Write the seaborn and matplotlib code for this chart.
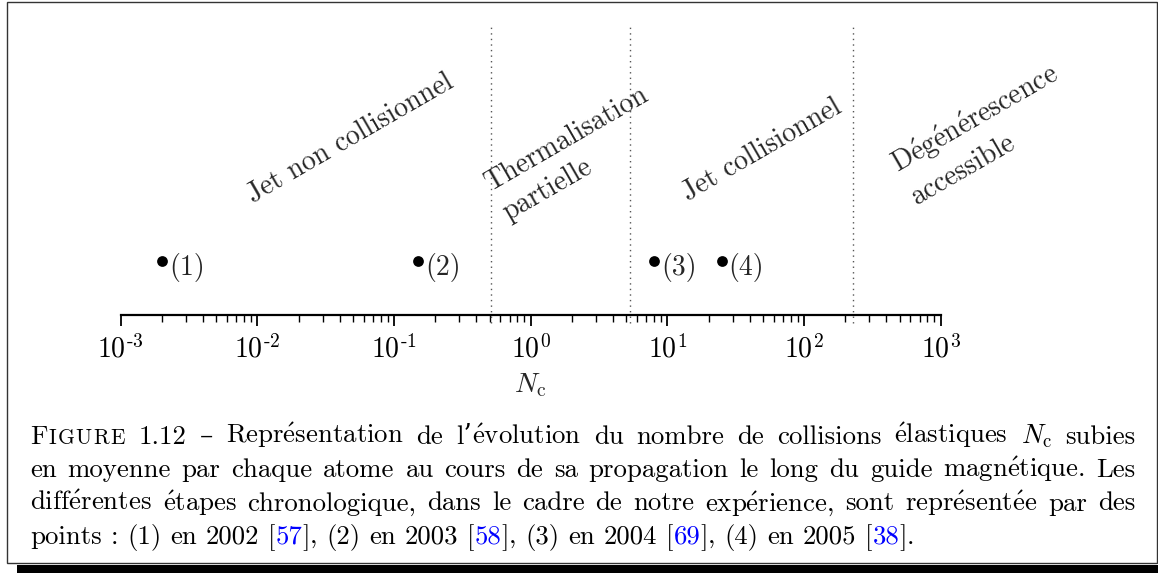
import re

import numpy as np
import pandas as pd
import matplotlib
matplotlib.use("Agg")
import matplotlib.pyplot as plt
from matplotlib.patches import Rectangle
from matplotlib.ticker import LogLocator, NullFormatter, FuncFormatter
import seaborn as sns

# chart values
steps = ["(1)", "(2)", "(3)", "(4)"]
n_collisions = [2e-3, 0.15, 8.0, 25.0]
boundaries = [0.51, 5.3, 230.0]
regions = ["Jet non collisionnel", "Thermalisation\npartielle",
           "Jet collisionnel", "Dégénérescence\naccessible"]
decades = [-3, -2, -1, 0, 1, 2, 3]

caption_lines = [
    "FIGURE 1.12 – Représentation de l’évolution du nombre de collisions élastiques $N_\\mathrm{c}$ subies",
    "en moyenne par chaque atome au cours de sa propagation le long du guide magnétique. Les",
    "différentes étapes chronologique, dans le cadre de notre expérience, sont représentée par des",
    "points : (1) en 2002 [57], (2) en 2003 [58], (3) en 2004 [69], (4) en 2005 [38].",
]

# layout (pixels of the 1158x573 picture)
W, H, DPI = 1158, 573, 100
region_pos = [(350, 138), (576, 154), (762, 150), (984, 134)]
caption_base = [443.5, 477, 510.5, 544]
CAP_X0, CAP_X1 = 30, 1135
CAP_SIZE = 19.3

sns.set_theme(style="white")
plt.rcParams["font.family"] = ["cmr10", "DejaVu Serif"]
plt.rcParams["mathtext.fontset"] = "cm"
plt.rcParams["axes.formatter.use_mathtext"] = True
plt.rcParams["axes.unicode_minus"] = False


def accents(w):
    # cmr10 has no é glyph, so such words go through mathtext
    if "é" in w:
        return "$\\mathrm{" + w.replace("é", "\\acute{e}") + "}$"
    return w


def accents_block(s):
    return "\n".join(" ".join(accents(w) for w in line.split(" "))
                     for line in s.split("\n"))


def decade_label(v, pos):
    e = int(round(np.log10(v)))
    if e < 0:
        return r"$10^{\text{-}%d}$" % (-e)
    return r"$10^{%d}$" % e


fig = plt.figure(figsize=(W / DPI, H / DPI), dpi=DPI)
ax_left, ax_right, ax_bottom, ax_top = 120.7, 940.7, 315, 15
ax = fig.add_axes([ax_left / W, 1 - ax_bottom / H,
                   (ax_right - ax_left) / W, (ax_bottom - ax_top) / H])

df = pd.DataFrame({"N": n_collisions, "step": steps, "row": 0.0})
sns.scatterplot(data=df, x="N", y="row", ax=ax, color="black", s=60,
                linewidth=0, legend=False, zorder=3)
ax.set_xscale("log")
ax.set_xlim(10.0 ** decades[0], 10.0 ** decades[-1])
ax.set_ylim(-0.18, 0.82)

for _, r in df.iterrows():
    ax.annotate(r["step"], (r["N"], r["row"]), xytext=(5, -5),
                textcoords="offset points", ha="left", va="center", fontsize=20)

ax.vlines(boundaries, -0.207, 0.793, colors="#555555", linestyles=(0, (1, 3)),
          lw=1.0, clip_on=False)

for name, (px, py) in zip(regions, region_pos):
    ax.text((px - ax_left) / (ax_right - ax_left), (ax_bottom - py) / (ax_bottom - ax_top),
            accents_block(name), transform=ax.transAxes, rotation=30, rotation_mode="anchor",
            ha="center", va="center", multialignment="left", fontsize=20,
            linespacing=1.4, clip_on=False)

for side in ["top", "right", "left"]:
    ax.spines[side].set_visible(False)
ax.spines["bottom"].set_color("black")
ax.spines["bottom"].set_linewidth(1.6)
ax.set_yticks([])
ax.set_ylabel("")
ax.set_xticks([10.0 ** d for d in decades])
ax.xaxis.set_major_formatter(FuncFormatter(decade_label))
ax.xaxis.set_minor_locator(LogLocator(base=10, subs=np.arange(2, 10), numticks=100))
ax.xaxis.set_minor_formatter(NullFormatter())
ax.tick_params(axis="x", which="major", bottom=True, direction="out", length=8,
               width=1.3, labelsize=20, pad=6, colors="black")
ax.tick_params(axis="x", which="minor", bottom=True, direction="out", length=5,
               width=1.0, colors="black")
ax.set_xlabel(r"$N_\mathrm{c}$", fontsize=20, labelpad=6)

# caption, justified like the LaTeX one
renderer = fig.canvas.get_renderer()


def split_pieces(word):
    # (text, colour, size factor, extra space after in em)
    if word == "FIGURE":
        return [("F", "black", 1.0, 0.03)] + [(ch, "black", 0.8, 0.05) for ch in "IGURE"]
    out = []
    if "’" in word:
        head, word = word.split("’", 1)
        out.append((head + "’", "black", 1.0, 0.0))
    for part in re.split(r"(\[\d+\])", word):
        if not part:
            continue
        m = re.fullmatch(r"\[(\d+)\]", part)
        if m:
            out += [("[", "black", 1.0, 0.0), (m.group(1), "#0000ff", 1.0, 0.0),
                    ("]", "black", 1.0, 0.0)]
        else:
            out.append((accents(part), "black", 1.0, 0.0))
    return out


lines = []
for line, yb in zip(caption_lines, caption_base):
    words = []
    for w in line.split(" "):
        words.append([(fig.text(0, 1 - yb / H, s, fontsize=CAP_SIZE * k, color=c,
                                ha="left", va="baseline"), k, e)
                      for s, c, k, e in split_pieces(w)])
    lines.append(words)


def measure(size):
    em = size * DPI / 72
    out = []
    for words in lines:
        ws = []
        for pieces in words:
            row = []
            for t, k, e in pieces:
                t.set_fontsize(size * k)
                row.append(t.get_window_extent(renderer).width + e * em)
            ws.append(row)
        out.append(ws)
    return out


size = CAP_SIZE
for _ in range(5):
    widths = measure(size)
    em = size * DPI / 72
    need = max(sum(sum(r) for r in ws) + 0.25 * em * (len(ws) - 1) for ws in widths[:-1])
    if need <= CAP_X1 - CAP_X0:
        break
    size *= (CAP_X1 - CAP_X0) / need

for i, (words, ws) in enumerate(zip(lines, widths)):
    total = sum(sum(r) for r in ws)
    if i < len(lines) - 1:
        gap = (CAP_X1 - CAP_X0 - total) / (len(words) - 1)
    else:
        gap = 0.333 * size * DPI / 72
    x = CAP_X0
    for pieces, row in zip(words, ws):
        for (t, k, e), wd in zip(pieces, row):
            t.set_x(x / W)
            x += wd
        x += gap

# framed box with shadow
fig.add_artist(Rectangle((6.5 / W, 1 - 563 / H), (1157 - 6.5) / W, (563 - 1.5) / H,
                         fill=False, edgecolor="#333333", lw=1.0, transform=fig.transFigure))
fig.add_artist(Rectangle((17 / W, 0), (W - 17) / W, 8 / H, facecolor="black", lw=0,
                         transform=fig.transFigure))

fig.savefig("out.png", dpi=DPI)
